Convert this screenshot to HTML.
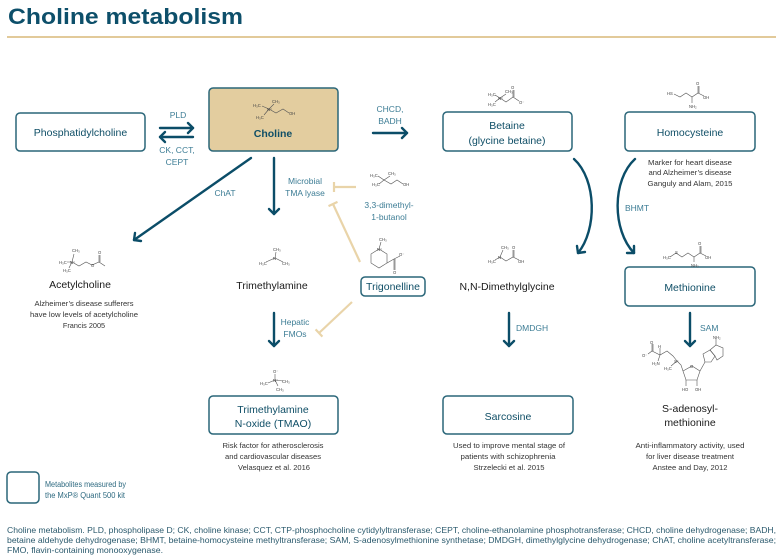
<!DOCTYPE html>
<html><head><meta charset="utf-8"><style>
html,body{margin:0;padding:0;background:#fff;}
svg{display:block;}
text{font-family:"Liberation Sans",sans-serif;}
.bx{fill:#fff;stroke:#2a6679;stroke-width:1.5;}
.bl{fill:#0f4e66;font-size:10.5px;text-anchor:middle;}
.bk{fill:#1a1a1a;font-size:10.5px;text-anchor:middle;}
.en{fill:#3d7d95;font-size:8.5px;}
.nt{fill:#333;font-size:7.3px;text-anchor:middle;}
.ar{stroke:#0b4d68;stroke-width:2.4;fill:none;stroke-linecap:round;stroke-linejoin:round;}
.inh{stroke:#e9d4a9;stroke-width:2.2;fill:none;}
.ch{stroke:#555;stroke-width:0.6;fill:none;}
.ct{fill:#444;font-size:4.2px;}
.cap{fill:#2b5a6d;font-size:8.5px;}
</style></head><body>
<svg width="783" height="560" viewBox="0 0 783 560" xmlns="http://www.w3.org/2000/svg">
<!-- title -->
<text x="8" y="24" font-size="22" font-weight="bold" fill="#0d4f6a" textLength="235" lengthAdjust="spacingAndGlyphs">Choline metabolism</text>
<line x1="7" y1="37" x2="776" y2="37" stroke="#d8b878" stroke-width="1.5"/>

<!-- boxes -->
<rect class="bx" x="16" y="113" width="129" height="38" rx="4"/>
<rect x="209" y="88" width="129" height="63" rx="4" fill="#e3cd9f" stroke="#2a6679" stroke-width="1.5"/>
<rect class="bx" x="443" y="112" width="129" height="39" rx="4"/>
<rect class="bx" x="625" y="112" width="130" height="39" rx="4"/>
<rect class="bx" x="625" y="267" width="130" height="39" rx="4"/>
<rect class="bx" x="443" y="396" width="130" height="38" rx="4"/>
<rect class="bx" x="209" y="396" width="129" height="38" rx="4"/>
<rect class="bx" x="361" y="277" width="64" height="19" rx="4"/>
<rect class="bx" x="7" y="472" width="32" height="31" rx="4"/>

<!-- box labels -->
<text class="bl" x="80.5" y="136">Phosphatidylcholine</text>
<text class="bl" x="273" y="137" font-weight="bold" font-size="11">Choline</text>
<text class="bl" x="507" y="129">Betaine</text>
<text class="bl" x="507" y="144">(glycine betaine)</text>
<text class="bl" x="690" y="136">Homocysteine</text>
<text class="bl" x="690" y="291">Methionine</text>
<text class="bl" x="508" y="420">Sarcosine</text>
<text class="bl" x="273" y="413">Trimethylamine</text>
<text class="bl" x="273" y="427">N-oxide (TMAO)</text>
<text class="bl" x="393" y="290" font-size="8.5">Trigonelline</text>

<!-- black labels -->
<text class="bk" x="80" y="288">Acetylcholine</text>
<text class="bk" x="272" y="289">Trimethylamine</text>
<text class="bk" x="507" y="290">N,N-Dimethylglycine</text>
<text class="bk" x="690" y="412">S-adenosyl-</text>
<text class="bk" x="690" y="426">methionine</text>

<!-- enzyme labels -->
<text class="en" x="178" y="118" text-anchor="middle">PLD</text>
<text class="en" x="177" y="153" text-anchor="middle">CK, CCT,</text>
<text class="en" x="177" y="165" text-anchor="middle">CEPT</text>
<text class="en" x="390" y="112" text-anchor="middle">CHCD,</text>
<text class="en" x="390" y="124" text-anchor="middle">BADH</text>
<text class="en" x="225" y="196" text-anchor="middle">ChAT</text>
<text class="en" x="305" y="184" text-anchor="middle">Microbial</text>
<text class="en" x="305" y="196" text-anchor="middle">TMA lyase</text>
<text class="en" x="389" y="208" text-anchor="middle">3,3-dimethyl-</text>
<text class="en" x="389" y="220" text-anchor="middle">1-butanol</text>
<text class="en" x="295" y="325" text-anchor="middle">Hepatic</text>
<text class="en" x="295" y="337" text-anchor="middle">FMOs</text>
<text class="en" x="516" y="331">DMDGH</text>
<text class="en" x="700" y="331">SAM</text>
<text class="en" x="625" y="211">BHMT</text>

<!-- notes -->
<text class="nt" x="84" y="306" textLength="99" lengthAdjust="spacingAndGlyphs">Alzheimer’s disease sufferers</text>
<text class="nt" x="84" y="317" textLength="108" lengthAdjust="spacingAndGlyphs">have low levels of acetylcholine</text>
<text class="nt" x="84" y="328">Francis 2005</text>

<text class="nt" x="273" y="448" textLength="101" lengthAdjust="spacingAndGlyphs">Risk factor for atherosclerosis</text>
<text class="nt" x="273" y="459" textLength="96" lengthAdjust="spacingAndGlyphs">and cardiovascular diseases</text>
<text class="nt" x="274" y="470" textLength="72" lengthAdjust="spacingAndGlyphs">Velasquez et al. 2016</text>

<text class="nt" x="509" y="448" textLength="112" lengthAdjust="spacingAndGlyphs">Used to improve mental stage of</text>
<text class="nt" x="508" y="459" textLength="95" lengthAdjust="spacingAndGlyphs">patients with schizophrenia</text>
<text class="nt" x="509" y="470" textLength="71" lengthAdjust="spacingAndGlyphs">Strzelecki et al. 2015</text>

<text class="nt" x="690" y="448" textLength="109" lengthAdjust="spacingAndGlyphs">Anti-inflammatory activity, used</text>
<text class="nt" x="690" y="459" textLength="88" lengthAdjust="spacingAndGlyphs">for liver disease treatment</text>
<text class="nt" x="690" y="470" textLength="75" lengthAdjust="spacingAndGlyphs">Anstee and Day, 2012</text>

<text class="nt" x="690" y="165" textLength="84" lengthAdjust="spacingAndGlyphs">Marker for heart disease</text>
<text class="nt" x="690" y="175" textLength="83" lengthAdjust="spacingAndGlyphs">and Alzheimer’s disease</text>
<text class="nt" x="690" y="186" textLength="85" lengthAdjust="spacingAndGlyphs">Ganguly and Alam, 2015</text>

<!-- arrows -->
<g class="ar">
<line x1="160" y1="128" x2="193" y2="128"/><polyline points="188,123 193,128 188,133"/>
<line x1="160" y1="137" x2="193" y2="137"/><polyline points="165,132 160,137 165,142"/>
<line x1="373" y1="133" x2="407" y2="133"/><polyline points="402,128 407,133 402,138"/>
<line x1="251" y1="158" x2="134" y2="240"/><polyline points="141,241 134,240 135,233"/>
<line x1="274" y1="158" x2="274" y2="214"/><polyline points="269,209 274,214 279,209"/>
<line x1="274" y1="313" x2="274" y2="346"/><polyline points="269,341 274,346 279,341"/>
<line x1="509" y1="313" x2="509" y2="346"/><polyline points="504,341 509,346 514,341"/>
<line x1="690" y1="313" x2="690" y2="346"/><polyline points="685,341 690,346 695,341"/>
<path d="M574,159 C597,180 597,230 578,253"/><polyline points="585,252 578,253 577,246"/>
<path d="M635,159 C612,180 612,230 634,253"/><polyline points="634,246 634,253 627,253"/>
</g>

<!-- inhibitors -->
<g class="inh">
<line x1="356" y1="187" x2="334" y2="187"/><line x1="334" y1="182" x2="334" y2="192"/>
<line x1="360" y1="262" x2="333" y2="204"/><line x1="337.5" y1="201.9" x2="328.5" y2="206.1"/>
<line x1="352" y1="302" x2="319" y2="333"/><line x1="322.4" y1="336.6" x2="315.6" y2="329.4"/>
</g>

<!-- chemical structures -->
<!-- choline -->
<g class="ch"><polyline points="262,106 269,109 274,104"/><polyline points="269,109 264,115"/><polyline points="269,109 276,113 283,109 289,113"/></g>
<g class="ct"><text x="253" y="107">H₃C</text><text x="272" y="103">CH₃</text><text x="256" y="119">H₃C</text><text x="267" y="111">N⁺</text><text x="289" y="115">OH</text></g>
<!-- betaine -->
<g class="ch"><polyline points="495,95 500,98 506,94"/><polyline points="500,98 495,102"/><polyline points="500,98 506,102 513,97 519,101"/><line x1="513" y1="97" x2="513" y2="90"/><line x1="514" y1="97" x2="514" y2="90"/></g>
<g class="ct"><text x="488" y="96">H₃C</text><text x="505" y="93">CH₃</text><text x="488" y="106">H₃C</text><text x="498" y="100">N⁺</text><text x="511" y="89">O</text><text x="519" y="104">O⁻</text></g>
<!-- homocysteine -->
<g class="ch"><polyline points="674,94 680,97 686,93 692,97 698,93 704,96"/><line x1="698" y1="93" x2="698" y2="86"/><line x1="699" y1="93" x2="699" y2="86"/><line x1="692" y1="97" x2="692" y2="103"/></g>
<g class="ct"><text x="667" y="95">HS</text><text x="696" y="85">O</text><text x="703" y="99">OH</text><text x="689" y="108">NH₂</text></g>
<!-- DMG -->
<g class="ch"><polyline points="495,260 500,257 506,261 513,257 519,260"/><line x1="500" y1="257" x2="503" y2="250"/><line x1="513" y1="257" x2="513" y2="250"/><line x1="514" y1="257" x2="514" y2="250"/></g>
<g class="ct"><text x="488" y="263">H₃C</text><text x="498" y="259">N</text><text x="501" y="249">CH₃</text><text x="512" y="249">O</text><text x="518" y="263">OH</text></g>
<!-- methionine -->
<g class="ch"><polyline points="670,257 676,253 682,257 688,253 694,257 700,253 706,256"/><line x1="700" y1="253" x2="700" y2="246"/><line x1="701" y1="253" x2="701" y2="246"/><line x1="694" y1="257" x2="694" y2="262"/></g>
<g class="ct"><text x="663" y="259">H₃C</text><text x="675" y="254">S</text><text x="698" y="245">O</text><text x="705" y="259">OH</text><text x="691" y="267">NH₂</text></g>
<!-- acetylcholine -->
<g class="ch"><polyline points="67,262 72,262 74,254"/><polyline points="72,262 69,268"/><polyline points="72,262 79,266 86,262 92,265 99,262 105,266"/><line x1="99" y1="262" x2="99" y2="255"/><line x1="100" y1="262" x2="100" y2="255"/></g>
<g class="ct"><text x="59" y="264">H₃C</text><text x="72" y="252">CH₃</text><text x="63" y="272">H₃C</text><text x="70" y="264">N⁺</text><text x="91" y="267">O</text><text x="98" y="254">O</text></g>
<!-- TMA -->
<g class="ch"><polyline points="266,262 275,258 283,262"/><line x1="275" y1="258" x2="276" y2="252"/></g>
<g class="ct"><text x="259" y="265">H₃C</text><text x="273" y="251">CH₃</text><text x="282" y="265">CH₃</text><text x="273" y="260">N</text></g>
<!-- TMAO -->
<g class="ch"><line x1="275" y1="374" x2="275" y2="380"/><polyline points="268,383 275,380 283,381"/><line x1="275" y1="380" x2="278" y2="386"/></g>
<g class="ct"><text x="273" y="373">O⁻</text><text x="260" y="385">H₃C</text><text x="273" y="382">N⁺</text><text x="282" y="383">CH₃</text><text x="276" y="391">CH₃</text></g>
<!-- trigonelline -->
<g class="ch"><polygon points="379,249 387,254 387,263 379,268 371,263 371,254"/><line x1="379" y1="249" x2="381" y2="242"/><polyline points="387,263 394,259 400,256"/><line x1="394" y1="259" x2="394" y2="270"/><line x1="395" y1="259" x2="395" y2="270"/></g>
<g class="ct"><text x="379" y="241">CH₃</text><text x="377" y="251">N⁺</text><text x="399" y="256">O⁻</text><text x="393" y="274">O</text></g>
<!-- 3,3-dimethyl-1-butanol -->
<g class="ch"><polyline points="378,176 384,180 390,176"/><polyline points="384,180 379,184"/><polyline points="384,180 391,184 397,180 403,184"/></g>
<g class="ct"><text x="370" y="177">H₃C</text><text x="388" y="175">CH₃</text><text x="372" y="186">H₃C</text><text x="403" y="186">OH</text></g>
<!-- SAM -->
<g class="ch">
<polyline points="648,354 652,351 660,355 667,351 673,356 677,361"/>
<line x1="652" y1="351" x2="652" y2="344"/><line x1="653" y1="351" x2="653" y2="344"/>
<line x1="660" y1="355" x2="660" y2="348"/><line x1="660" y1="355" x2="658" y2="361"/>
<polyline points="677,361 671,366"/><polyline points="677,361 681,365 683,371"/>
<polygon points="683,371 692,366 700,371 697,380 686,380"/>
<line x1="686" y1="380" x2="686" y2="386"/><line x1="697" y1="380" x2="697" y2="386"/>
<line x1="700" y1="371" x2="705" y2="362"/>
<polygon points="705,362 703,354 710,350 715,356 711,362"/>
<polygon points="710,350 716,345 723,348 723,356 717,360 715,356"/>
<line x1="716" y1="345" x2="716" y2="339"/>
</g>
<g class="ct"><text x="642" y="357">O⁻</text><text x="650" y="344">O</text><text x="658" y="348">H</text><text x="652" y="365">H₂N</text><text x="674" y="363">S⁺</text><text x="664" y="370">H₃C</text><text x="690" y="368">O</text><text x="682" y="391">HO</text><text x="695" y="391">OH</text><text x="713" y="339">NH₂</text></g>

<!-- legend -->
<text x="45" y="487" fill="#2e6a80" font-size="8" textLength="81" lengthAdjust="spacingAndGlyphs">Metabolites measured by</text>
<text x="45" y="498" fill="#2e6a80" font-size="8" textLength="80" lengthAdjust="spacingAndGlyphs">the MxP® Quant 500 kit</text>

<!-- caption -->
<text class="cap" x="7" y="533" textLength="769" lengthAdjust="spacingAndGlyphs">Choline metabolism. PLD, phospholipase D; CK, choline kinase; CCT, CTP-phosphocholine cytidylyltransferase; CEPT, choline-ethanolamine phosphotransferase; CHCD, choline dehydrogenase; BADH,</text>
<text class="cap" x="7" y="543" textLength="769" lengthAdjust="spacingAndGlyphs">betaine aldehyde dehydrogenase; BHMT, betaine-homocysteine methyltransferase; SAM, S-adenosylmethionine synthetase; DMDGH, dimethylglycine dehydrogenase; ChAT, choline acetyltransferase;</text>
<text class="cap" x="7" y="553" textLength="156" lengthAdjust="spacingAndGlyphs">FMO, flavin-containing monooxygenase.</text>
</svg>
</body></html>
